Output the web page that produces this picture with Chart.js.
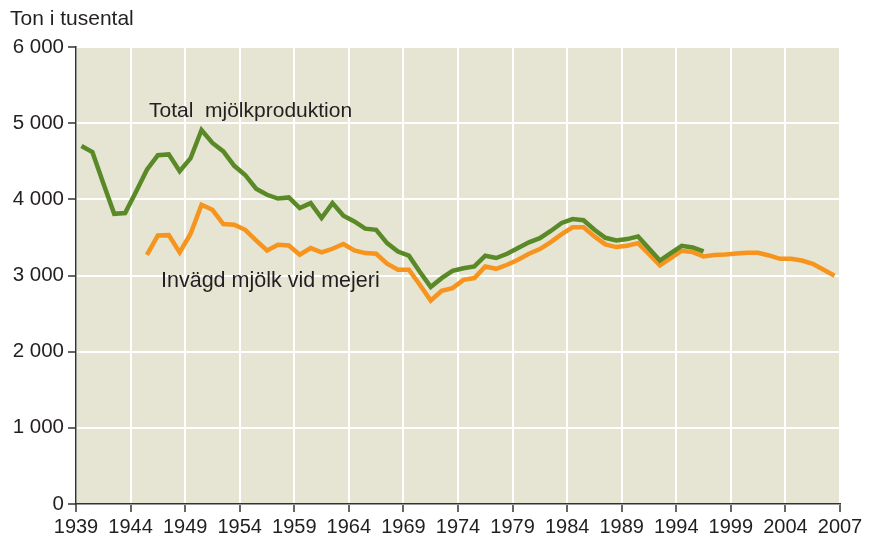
<!DOCTYPE html>
<html>
<head>
<meta charset="utf-8">
<script src="https://cdn.jsdelivr.net/npm/chart.js@4.4.1/dist/chart.umd.min.js"></script>
<style>
  body { margin: 0; background: #fff; }
</style>
</head>
<body>
<canvas id="chart" width="869" height="539"></canvas>
<script>
// Years 1939-2008, one value per year (null = no data)
const years = [];
for (let y = 1939; y <= 2008; y++) years.push(y);

const totalMilk = [
  4700, 4620, 4210, 3810, 3820, 4100, 4390, 4580, 4590, 4370,
  4540, 4910, 4740, 4630, 4440, 4320, 4140, 4060, 4010, 4025,
  3885, 3950, 3755, 3950, 3785, 3710, 3615, 3600, 3425, 3315,
  3260, 3050, 2850, 2965, 3060, 3095, 3120, 3260, 3230, 3285,
  3360, 3435, 3490, 3585, 3690, 3740, 3725, 3600, 3495, 3460,
  3478, 3513, 3355, 3197, 3294, 3390, 3368, 3316, null, null,
  null, null, null, null, null, null, null, null, null, null
];

const dairyMilk = [
  null, null, null, null, null, null, 3272, 3526, 3530, 3303,
  3548, 3929, 3863, 3675, 3666, 3600, 3460, 3329, 3403, 3394,
  3272, 3360, 3303, 3351, 3413, 3329, 3294, 3285, 3154, 3075,
  3075, 2878, 2670, 2799, 2834, 2943, 2966, 3119, 3088, 3141,
  3206, 3285, 3347, 3439, 3544, 3632, 3632, 3513, 3408, 3373,
  3390, 3425, 3280, 3132, 3228, 3325, 3307, 3250, 3268, 3276,
  3289, 3298, 3298, 3263, 3219, 3219, 3197, 3154, 3075, 2996
];

const xTickLabels = ['1939', '1944', '1949', '1954', '1959', '1964', '1969',
  '1974', '1979', '1984', '1989', '1994', '1999', '2004', '2007'];
const yTicks = [0, 1000, 2000, 3000, 4000, 5000, 6000];

const FONT = '"Liberation Sans", Arial, sans-serif';
const TEXT = '#231f20';

function fmt(v) {
  return String(v).replace(/\B(?=(\d{3})+(?!\d))/g, ' ');
}

// beige plot background + texts
const decor = {
  id: 'decor',
  beforeDraw(chart) {
    const { ctx, chartArea: a } = chart;
    ctx.save();
    ctx.fillStyle = '#e6e4d2';
    ctx.fillRect(a.left, a.top, a.right - a.left, a.bottom - a.top);
    ctx.restore();
  },
  afterDraw(chart) {
    const ctx = chart.ctx;
    ctx.save();
    ctx.fillStyle = TEXT;
    ctx.font = '21px ' + FONT;
    ctx.textBaseline = 'alphabetic';
    ctx.fillText('Ton i tusental', 10, 25);
    ctx.fillText('Total  mjölkproduktion', 149, 117);
    ctx.font = '21.5px ' + FONT;
    ctx.fillText('Invägd mjölk vid mejeri', 161, 287);
    ctx.restore();
  }
};

new Chart(document.getElementById('chart'), {
  type: 'line',
  data: {
    labels: years,
    datasets: [
      {
        label: 'Total mjölkproduktion',
        data: years.map((y, i) => ({ x: y, y: totalMilk[i] })),
        borderColor: '#5a8a28',
        borderWidth: 4.5,
        pointRadius: 0,
        tension: 0
      },
      {
        label: 'Invägd mjölk vid mejeri',
        data: years.map((y, i) => ({ x: y, y: dairyMilk[i] })),
        borderColor: '#f7941e',
        borderWidth: 4.5,
        pointRadius: 0,
        tension: 0
      }
    ]
  },
  options: {
    responsive: false,
    animation: false,
    layout: { padding: { top: 47, right: 29, left: 0, bottom: 0 } },
    plugins: {
      legend: { display: false },
      tooltip: { enabled: false }
    },
    scales: {
      x: {
        type: 'linear',
        // each year occupies a band, ticks sit on band edges
        min: years[0] - 0.5,
        max: years[years.length - 1] + 0.5,
        afterBuildTicks(scale) {
          scale.ticks = xTickLabels.map((_, i) => ({ value: scale.min + 5 * i }));
        },
        afterFit(scale) { scale.height = 35; },
        ticks: {
          autoSkip: false,
          maxRotation: 0,
          padding: 3,
          color: TEXT,
          font: { family: FONT, size: 20 },
          callback: (v, i) => xTickLabels[i]
        },
        grid: { color: '#ffffff', lineWidth: 2, tickColor: '#333333', tickLength: 8, tickWidth: 1.5 },
        border: { display: true, color: '#333333', width: 1.5 }
      },
      y: {
        min: 0,
        max: 6000,
        afterBuildTicks(scale) {
          scale.ticks = yTicks.map(v => ({ value: v }));
        },
        afterFit(scale) { scale.width = 76; },
        ticks: {
          padding: 4,
          color: TEXT,
          font: { family: FONT, size: 20.5 },
          callback: v => fmt(v)
        },
        grid: { color: '#ffffff', lineWidth: 2, tickColor: '#333333', tickLength: 8, tickWidth: 1.5 },
        border: { display: true, color: '#333333', width: 1.5 }
      }
    }
  },
  plugins: [decor]
});
</script>
</body>
</html>
